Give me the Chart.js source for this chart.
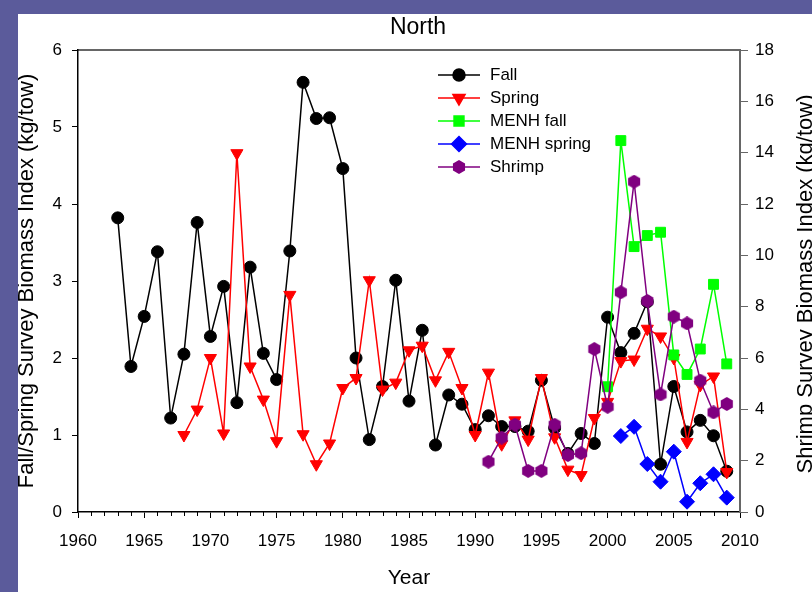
<!DOCTYPE html>
<html>
<head>
<meta charset="utf-8">
<script src="https://cdn.jsdelivr.net/npm/chart.js@4"></script>
<style>
html, body { margin: 0; padding: 0; overflow: hidden; width: 812px; height: 592px; background: #5b5b9b; }
#panel { position: absolute; left: 18px; top: 14px; width: 800px; height: 578px; background: #fff; }
</style>
</head>
<body>
<div id="panel"><canvas id="north" width="800" height="578"></canvas></div>
<script>
// survey years
const fallYears = [1963, 1964, 1965, 1966, 1967, 1968, 1969, 1970, 1971, 1972, 1973, 1974, 1975, 1976, 1977, 1978,
  1979, 1980, 1981, 1982, 1983, 1984, 1985, 1986, 1987, 1988, 1989, 1990, 1991, 1992, 1993, 1994, 1995, 1996,
  1997, 1998, 1999, 2000, 2001, 2002, 2003, 2004, 2005, 2006, 2007, 2008, 2009]
const springYears = [1968, 1969, 1970, 1971, 1972, 1973, 1974, 1975, 1976, 1977, 1978, 1979, 1980, 1981, 1982,
  1983, 1984, 1985, 1986, 1987, 1988, 1989, 1990, 1991, 1992, 1993, 1994, 1995, 1996, 1997, 1998, 1999, 2000,
  2001, 2002, 2003, 2004, 2005, 2006, 2007, 2008, 2009]
const menhFallYears = [2000, 2001, 2002, 2003, 2004, 2005, 2006, 2007, 2008, 2009]
const menhSpringYears = [2001, 2002, 2003, 2004, 2005, 2006, 2007, 2008, 2009]
const shrimpYears = [1991, 1992, 1993, 1994, 1995, 1996, 1997, 1998, 1999, 2000, 2001, 2002, 2003, 2004, 2005,
  2006, 2007, 2008, 2009]

// biomass index (kg/tow)
const fall = [3.82, 1.89, 2.54, 3.38, 1.22, 2.05, 3.76, 2.28, 2.93, 1.42, 3.18, 2.06, 1.72, 3.39, 5.58, 5.11,
  5.12, 4.46, 2.00, 0.94, 1.63, 3.01, 1.44, 2.36, 0.87, 1.52, 1.40, 1.07, 1.25, 1.11, 1.11, 1.05, 1.71, 1.09,
  0.76, 1.02, 0.89, 2.53, 2.07, 2.32, 2.73, 0.62, 1.63, 1.04, 1.19, 0.99, 0.53]
const spring = [1.00, 1.33, 2.00, 1.02, 4.66, 1.89, 1.46, 0.92, 2.82, 1.01, 0.62, 0.89, 1.61, 1.74, 3.01,
  1.59, 1.68, 2.10, 2.16, 1.71, 2.08, 1.61, 1.00, 1.81, 0.88, 1.19, 0.94, 1.74, 0.97, 0.55, 0.48, 1.22, 1.43,
  1.96, 1.98, 2.38, 2.28, 2.00, 0.91, 1.65, 1.76, 0.52]
const menhFall = [4.88, 14.47, 10.34, 10.77, 10.90, 6.12, 5.36, 6.35, 8.87, 5.77]
const menhSpring = [2.96, 3.32, 1.87, 1.18, 2.35, 0.40, 1.12, 1.47, 0.56]
const shrimp = [1.96, 2.90, 3.40, 1.60, 1.60, 3.40, 2.22, 2.29, 6.35, 4.10, 8.56, 12.87, 8.22, 4.58, 7.61,
  7.35, 5.12, 3.88, 4.21]

const pts = (years, vals) => years.map((yr, i) => ({ x: yr, y: vals[i] }))

function hexagon(color, size) {
  const c = document.createElement('canvas')
  c.width = c.height = size
  const g = c.getContext('2d')
  const r = size / 2
  g.beginPath()
  for (let i = 0; i < 6; i++) {
    const a = Math.PI / 3 * i - Math.PI / 2
    g.lineTo(r + r * Math.cos(a), r + r * Math.sin(a))
  }
  g.closePath()
  g.fillStyle = color
  g.fill()
  return c
}

Chart.defaults.font.family = "'Liberation Sans', Arial, sans-serif"
Chart.defaults.color = '#000'

const serie = (label, data, color, style, radius, extra, axis, order) => Object.assign({
  label: label,
  data: data,
  borderColor: color,
  backgroundColor: color,
  borderWidth: 1.5,
  pointStyle: style,
  pointRadius: radius,
  pointBorderWidth: 1,
  yAxisID: axis,
  order: order,
  tension: 0
}, extra)

// leyenda con linea y marcador, dentro del area
const leyenda = {
  id: 'leyenda',
  afterDraw(chart) {
    const ctx = chart.ctx
    ctx.save()
    chart.data.datasets.forEach((ds, i) => {
      const y = chart.chartArea.top + 25 + i * 23
      ctx.strokeStyle = ds.borderColor
      ctx.fillStyle = ds.borderColor
      ctx.lineWidth = 1.5
      ctx.beginPath()
      ctx.moveTo(420, y)
      ctx.lineTo(462, y)
      ctx.stroke()
      if (Chart.helpers && Chart.helpers.drawPoint) {
        Chart.helpers.drawPoint(ctx, { pointStyle: ds.pointStyle, radius: ds.pointRadius, rotation: ds.rotation || 0, borderWidth: 1 }, 441, y)
      }
      ctx.fillStyle = '#000'
      ctx.font = "17px 'Liberation Sans', Arial, sans-serif"
      ctx.textBaseline = 'middle'
      ctx.textAlign = 'left'
      ctx.fillText(ds.label, 472, y)
    })
    // marcas menores del eje x
    const x = chart.scales.x
    ctx.strokeStyle = '#000'
    ctx.lineWidth = 1
    for (let yr = 1960; yr <= 2010; yr++) {
      if (yr % 5 === 0) continue
      const px = Math.round(x.getPixelForValue(yr)) + 0.5
      ctx.beginPath()
      ctx.moveTo(px, x.top)
      ctx.lineTo(px, x.top + 4)
      ctx.stroke()
    }
    // titulo eje derecho, leido de abajo hacia arriba
    const a = chart.chartArea
    ctx.translate(788, (a.top + a.bottom) / 2 + 3)
    ctx.rotate(-Math.PI / 2)
    ctx.font = "22px 'Liberation Sans', Arial, sans-serif"
    ctx.textAlign = 'center'
    ctx.textBaseline = 'middle'
    ctx.fillText('Shrimp Survey Biomass Index (kg/tow)', 0, 0)
    ctx.restore()
  }
}

new Chart(document.querySelector('#north'), {
  type: 'line',
  data: {
    datasets: [
      serie('Fall', pts(fallYears, fall), '#000000', 'circle', 6, {}, 'y', 5),
      serie('Spring', pts(springYears, spring), '#ff0000', 'triangle', 7, { rotation: 180 }, 'y', 4),
      serie('MENH fall', pts(menhFallYears, menhFall), '#00ff00', 'rect', 7, {}, 'y2', 3),
      serie('MENH spring', pts(menhSpringYears, menhSpring), '#0000ff', 'rectRot', 7.5, {}, 'y2', 2),
      serie('Shrimp', pts(shrimpYears, shrimp), '#800080', hexagon('#800080', 14), 7, {}, 'y2', 1)
    ]
  },
  options: {
    responsive: false,
    animation: false,
    layout: { padding: 0 },
    plugins: {
      legend: { display: false },
      tooltip: { enabled: false },
      title: {
        display: true,
        text: 'North',
        font: { size: 23, weight: 'normal' },
        color: '#000',
        padding: { top: 0, bottom: 0 }
      }
    },
    scales: {
      x: {
        type: 'linear',
        position: 'bottom',
        min: 1960,
        max: 2010,
        ticks: { stepSize: 5, font: { size: 17 }, padding: 13, callback: v => String(v) },
        grid: { drawOnChartArea: false, tickLength: 6, color: '#000' },
        border: { color: '#000', width: 1.5 },
        title: { display: true, text: 'Year', font: { size: 21 }, padding: { top: 0, bottom: 1 } },
        afterFit: s => { s.height = 80 }
      },
      xTop: {
        type: 'linear',
        position: 'top',
        min: 1960,
        max: 2010,
        ticks: { display: false },
        grid: { drawOnChartArea: false, drawTicks: false },
        border: { color: '#666', width: 2 },
        afterFit: s => { s.height = 8.4 }
      },
      y: {
        position: 'left',
        min: 0,
        max: 6,
        ticks: { stepSize: 1, font: { size: 17 }, padding: 10 },
        grid: { drawOnChartArea: false, tickLength: 6, color: '#000' },
        border: { color: '#000', width: 1.5 },
        title: { display: true, text: 'Fall/Spring Survey Biomass Index (kg/tow)', font: { size: 22 }, padding: { top: -4, bottom: 0 } },
        afterFit: s => { s.width = 60 }
      },
      y2: {
        position: 'right',
        min: 0,
        max: 18,
        ticks: { stepSize: 2, font: { size: 17 }, padding: 7 },
        grid: { drawOnChartArea: false, tickLength: 8, color: '#666' },
        border: { color: '#666', width: 2 },
        afterFit: s => { s.width = 78 }
      }
    }
  },
  plugins: [leyenda]
})
</script>
</body>
</html>
